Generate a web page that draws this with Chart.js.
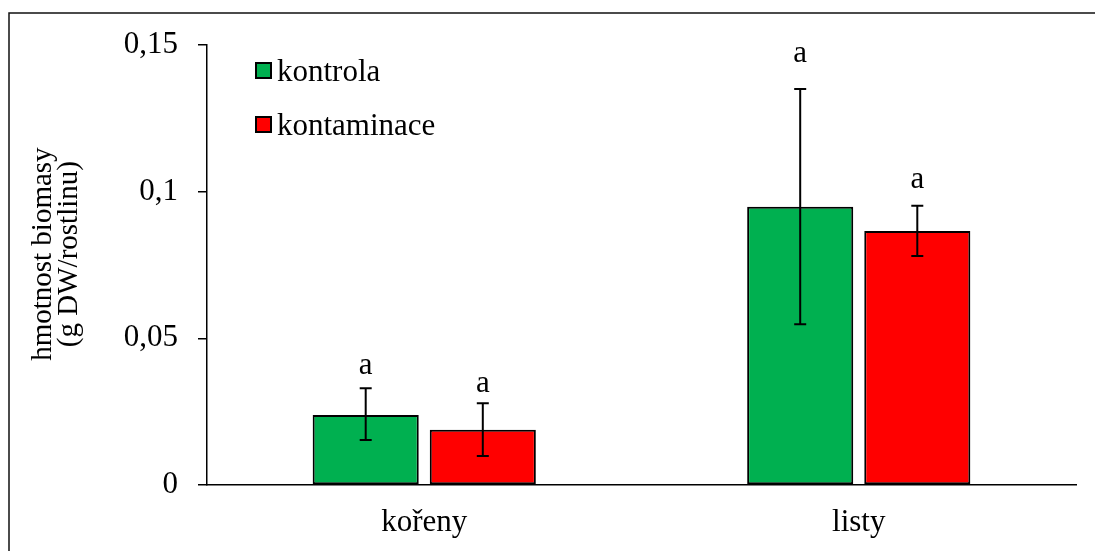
<!DOCTYPE html>
<html>
<head>
<meta charset="utf-8">
<script src="https://cdn.jsdelivr.net/npm/chart.js@4/dist/chart.umd.min.js"></script>
<style>
    html, body { margin: 0; padding: 0; background: #fff; }
    canvas { display: block; }
</style>
</head>
<body>
<canvas id="chart" width="1095" height="551"></canvas>
<script>
// Data
const categories = ['kořeny', 'listy'];
const seriesNames = ['kontrola', 'kontaminace'];
const seriesColors = ['#00B050', '#FF0000'];

const kontrola = [0.0239, 0.0949];
const kontaminace = [0.0188, 0.0866];

// error bar ends (low, high)
const kontrolaLow = [0.0153, 0.0548];
const kontrolaHigh = [0.0330, 0.1350];
const kontaminaceLow = [0.0099, 0.0781];
const kontaminaceHigh = [0.0279, 0.0952];

// significance letters and the value where their baseline sits
const kontrolaLetters = ['a', 'a'];
const kontaminaceLetters = ['a', 'a'];
const kontrolaLetterY = [0.0378, 0.1442];
const kontaminaceLetterY = [0.0317, 0.1013];

const yTickLabels = ['0', '0,05', '0,1', '0,15'];

const FONT = "'Liberation Serif', 'Times New Roman', serif";
const FS = 31;
const errLow = [kontrolaLow, kontaminaceLow];
const errHigh = [kontrolaHigh, kontaminaceHigh];
const letters = [kontrolaLetters, kontaminaceLetters];
const letterY = [kontrolaLetterY, kontaminaceLetterY];

// Error bars + letters
const errorBarPlugin = {
    id: 'errorBars',
    afterDatasetsDraw(chart) {
        const ctx = chart.ctx;
        const y = chart.scales.y;
        ctx.save();
        ctx.strokeStyle = '#000';
        ctx.lineWidth = 2;
        chart.data.datasets.forEach((ds, di) => {
            const meta = chart.getDatasetMeta(di);
            meta.data.forEach((bar, i) => {
                const x = bar.x;
                const yl = y.getPixelForValue(errLow[di][i]);
                const yh = y.getPixelForValue(errHigh[di][i]);
                ctx.beginPath();
                ctx.moveTo(x, yl); ctx.lineTo(x, yh);
                ctx.moveTo(x - 6, yl); ctx.lineTo(x + 6, yl);
                ctx.moveTo(x - 6, yh); ctx.lineTo(x + 6, yh);
                ctx.stroke();

                ctx.fillStyle = '#000';
                ctx.font = `${FS}px ${FONT}`;
                ctx.textAlign = 'center';
                ctx.textBaseline = 'alphabetic';
                ctx.fillText(letters[di][i], x, y.getPixelForValue(letterY[di][i]));
            });
        });
        ctx.restore();
    }
};

// Legend inside plot + outer frame
const decorPlugin = {
    id: 'decor',
    afterDraw(chart) {
        const ctx = chart.ctx;
        ctx.save();
        // frame
        ctx.strokeStyle = '#111';
        ctx.lineWidth = 1.5;
        ctx.beginPath();
        ctx.moveTo(9, 551);
        ctx.lineTo(9, 13);
        ctx.lineTo(1095, 13);
        ctx.stroke();

        // legend
        ctx.font = `${FS}px ${FONT}`;
        ctx.textAlign = 'left';
        ctx.textBaseline = 'alphabetic';
        seriesNames.forEach((name, i) => {
            const top = 63 + i * 54;
            ctx.fillStyle = seriesColors[i];
            ctx.fillRect(256, top, 15, 15);
            ctx.strokeStyle = '#000';
            ctx.lineWidth = 2;
            ctx.strokeRect(256, top, 15, 15);
            ctx.fillStyle = '#000';
            ctx.fillText(name, 277, top + 18);
        });
        ctx.restore();
    }
};

new Chart(document.getElementById('chart'), {
    type: 'bar',
    data: {
        labels: categories,
        datasets: [
            {
                label: seriesNames[0],
                data: kontrola,
                backgroundColor: seriesColors[0],
                borderColor: '#000',
                borderWidth: 2,
                borderSkipped: false
            },
            {
                label: seriesNames[1],
                data: kontaminace,
                backgroundColor: seriesColors[1],
                borderColor: '#000',
                borderWidth: 2,
                borderSkipped: false
            }
        ]
    },
    options: {
        responsive: false,
        animation: false,
        devicePixelRatio: 1,
        categoryPercentage: 0.539,
        barPercentage: 0.906,
        layout: { padding: { left: 0, right: 19, top: 45, bottom: 0 } },
        plugins: {
            legend: { display: false },
            tooltip: { enabled: false }
        },
        scales: {
            x: {
                grid: { display: false, drawTicks: false },
                border: { display: true, color: '#000', width: 1.5 },
                ticks: {
                    color: '#000',
                    font: { family: FONT, size: FS },
                    padding: 19
                },
                afterFit(scale) { scale.height = 66; }
            },
            y: {
                min: 0,
                max: 0.15,
                ticks: {
                    stepSize: 0.05,
                    color: '#000',
                    font: { family: FONT, size: FS },
                    padding: 20,
                    callback: (v, i) => yTickLabels[i]
                },
                grid: {
                    drawOnChartArea: false,
                    drawTicks: true,
                    tickLength: 9,
                    color: '#000',
                    lineWidth: 1.5
                },
                border: { display: true, color: '#000', width: 1.5 },
                title: {
                    display: true,
                    text: ['   hmotnost biomasy', '   (g DW/rostlinu)'],
                    color: '#000',
                    font: { family: FONT, size: 29, lineHeight: 0.9 },
                    padding: { top: 30, bottom: 0 }
                },
                afterFit(scale) { scale.width = 207; }
            }
        }
    },
    plugins: [errorBarPlugin, decorPlugin]
});
</script>
</body>
</html>
